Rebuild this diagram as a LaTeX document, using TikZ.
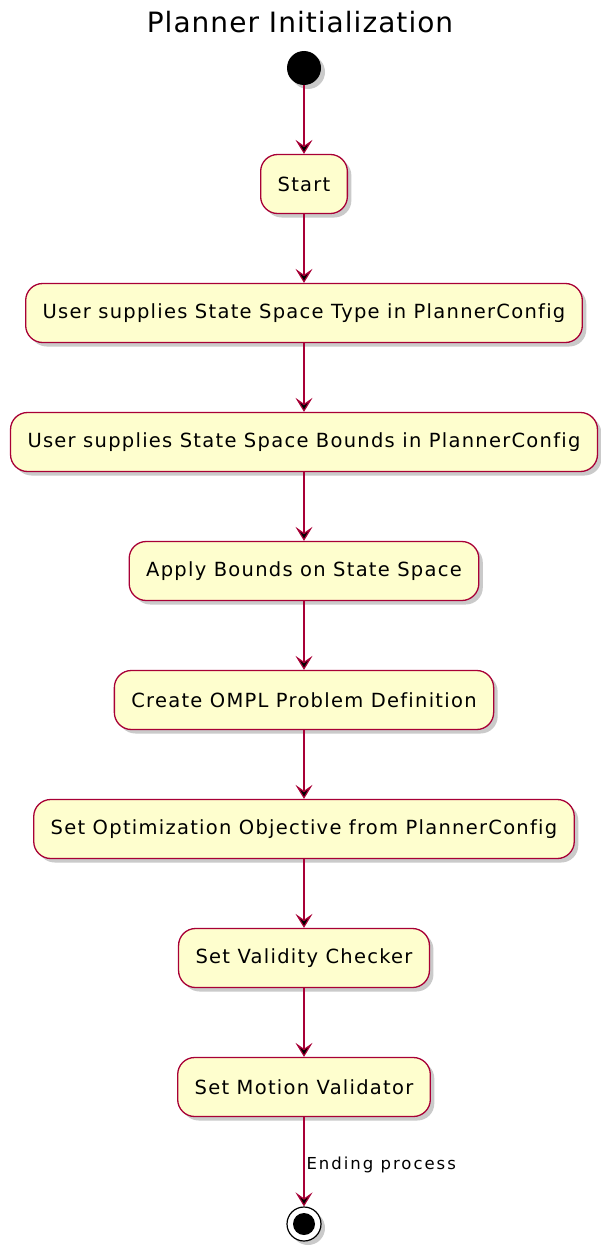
\documentclass[tikz,border=0pt]{standalone}
\usepackage{fontspec}
\setmainfont{DejaVu Sans}
\newfontfamily\boxfont{DejaVu Sans}[LetterSpace=6.5, Ligatures=NoCommon]
\newfontfamily\titlefont{DejaVu Sans}[LetterSpace=3.7]
\newfontfamily\labelfont{DejaVu Sans}[LetterSpace=12]
\usetikzlibrary{positioning, shadows, arrows.meta}

\definecolor{umlred}{HTML}{A80036}
\definecolor{umlfill}{HTML}{FEFECE}

\tikzset{
  umlshadow/.style={drop shadow={shadow xshift=4pt, shadow yshift=-4pt, opacity=0.35, fill=black!60}},
  action/.style={draw=umlred, fill=umlfill, line width=1.3pt, rounded corners=17pt,
    minimum height=59pt, inner xsep=17pt, font=\boxfont\fontsize{19.5}{21}\selectfont, umlshadow},
  startdot/.style={circle, fill=black, minimum size=34pt, inner sep=0pt, umlshadow},
  enddot/.style={circle, draw=black, fill=white, line width=1.2pt, minimum size=34pt, inner sep=0pt, umlshadow},
  flow/.style={draw=umlred, line width=1.2pt, -{Stealth[length=14pt, width=17pt, inset=6pt]}}
}

\begin{document}
\begin{tikzpicture}[x=1pt, y=1pt, node distance=129pt, on grid]
    \useasboundingbox (0,0) rectangle (600,-1247);

    \node[font=\titlefont\fontsize{28}{32}\selectfont] (title) at (300,-22) {Planner Initialization};

    \node[startdot] (init) at (304,-68) {};
    \node[action] (a0) [below=116pt of init] {Start};
    \node[action] (a1) [below=of a0] {User supplies State Space Type in PlannerConfig};
    \node[action] (a2) [below=of a1] {User supplies State Space Bounds in PlannerConfig};
    \node[action] (a3) [below=of a2] {Apply Bounds on State Space};
    \node[action] (a4) [below=of a3] {Create OMPL Problem Definition};
    \node[action] (a5) [below=of a4] {Set Optimization Objective from PlannerConfig};
    \node[action] (a6) [below=of a5] {Set Validity Checker};
    \node[action] (a7) [below=of a6] {Set Motion Validator};
    \node[enddot] (final) [below=137pt of a7] {};
    \fill (final) circle (11pt);

    \path[flow]
    (init) edge (a0)
    (a0) edge (a1)
    (a1) edge (a2)
    (a2) edge (a3)
    (a3) edge (a4)
    (a4) edge (a5)
    (a5) edge (a6)
    (a6) edge (a7)
    (a7) edge node[right, black, font=\labelfont\fontsize{16.5}{18}\selectfont, inner sep=2pt, pos=0.54] {Ending process} (final);

\end{tikzpicture}
\end{document}
